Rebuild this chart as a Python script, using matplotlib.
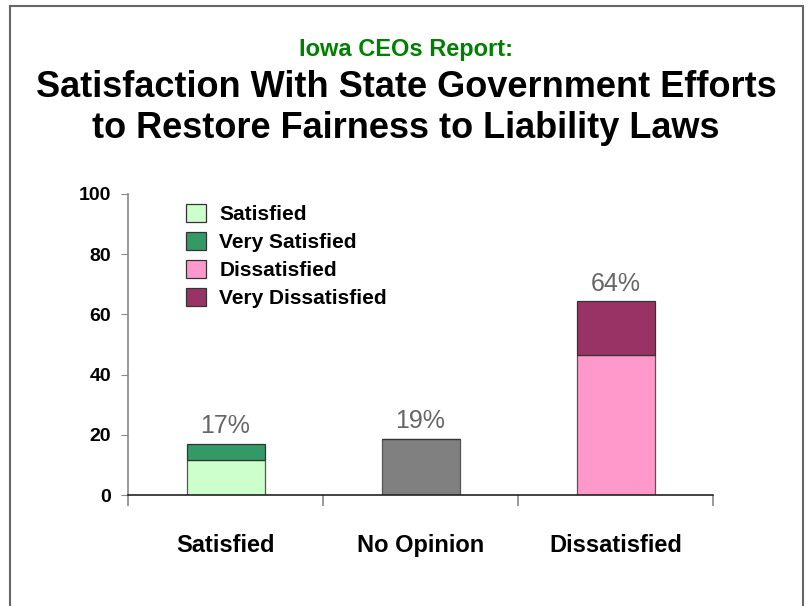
import numpy as np
import matplotlib
matplotlib.use('Agg')
from matplotlib import pyplot as plt
from matplotlib.patches import Rectangle, Patch

categories = ['Satisfied', 'No Opinion', 'Dissatisfied']
lower = [11.5, 18.7, 46.5]
upper = [5.4, 0.0, 17.8]
totals = ['17%', '19%', '64%']
lower_colors = ['#CCFFCC', '#808080', '#FF99CC']
upper_colors = ['#339966', '#808080', '#993366']
legend_labels = ['Satisfied', 'Very Satisfied', 'Dissatisfied', 'Very Dissatisfied']
legend_colors = ['#CCFFCC', '#339966', '#FF99CC', '#993366']
yticks = [0, 20, 40, 60, 80, 100]

plt.rcParams['font.family'] = ['Liberation Sans', 'DejaVu Sans']

W, H = 812, 606
fig = plt.figure(figsize=(W / 100, H / 100), dpi=100)
ax = fig.add_axes([128 / W, 1 - 495 / H, (713 - 128) / W, (495 - 194) / H])

x = np.arange(len(categories))
ax.bar(x, lower, width=0.4, color=lower_colors, edgecolor='#555555', linewidth=0.9)
ax.bar(x, upper, width=0.4, bottom=lower, color=upper_colors, edgecolor='#333333', linewidth=0.9)

# total labels above each stack
for xi, lo, up, t in zip(x, lower, upper, totals):
    ax.text(xi, lo + up + 3.6, t, ha='center', va='baseline', fontsize=18, color='#666666')

ax.set_xlim(-0.5, 2.5)
ax.set_ylim(0, 100)
ax.set_yticks(yticks)
ax.set_yticklabels([str(v) for v in yticks], fontweight='bold', fontsize=14)
ax.set_xticks(x)
ax.set_xticklabels(categories, fontweight='bold', fontsize=17)
ax.set_xticks([-0.5, 0.5, 1.5, 2.5], minor=True)
ax.tick_params(axis='x', which='major', length=0, pad=28)
ax.tick_params(axis='x', which='minor', length=8, color='#888888', width=1.2)
ax.tick_params(axis='y', length=5, color='#888888', pad=7)

for s in ['top', 'right']:
    ax.spines[s].set_visible(False)
ax.spines['left'].set_color('#888888')
ax.spines['left'].set_linewidth(1.2)
ax.spines['bottom'].set_color('#222222')
ax.spines['bottom'].set_linewidth(1.2)

handles = [Patch(facecolor=c, edgecolor='#333333', linewidth=0.9) for c in legend_colors]
ax.legend(handles, legend_labels, loc='upper left',
          bbox_to_anchor=((186 - 128) / 585, (495 - 204) / 301),
          frameon=False, prop={'weight': 'bold', 'size': 15}, borderpad=0, borderaxespad=0,
          handlelength=0.95, handleheight=0.95, handletextpad=0.65, labelspacing=0.37)

fig.text(0.5, 1 - 56 / H, 'Iowa CEOs Report:', ha='center', va='baseline',
         fontsize=17, fontweight='bold', color='#008000')
fig.text(0.5, 1 - 97 / H, 'Satisfaction With State Government Efforts',
         ha='center', va='baseline', fontsize=26, fontweight='bold')
fig.text(0.5, 1 - 138 / H, 'to Restore Fairness to Liability Laws',
         ha='center', va='baseline', fontsize=26, fontweight='bold')

# outer frame, bottom edge runs off the canvas
fig.patches.append(Rectangle((10 / W, -0.1), (803 - 10) / W, 1.1 - 6 / H,
                             transform=fig.transFigure, fill=False,
                             edgecolor='#666666', linewidth=1.5))

fig.savefig('out.png', dpi=100)
